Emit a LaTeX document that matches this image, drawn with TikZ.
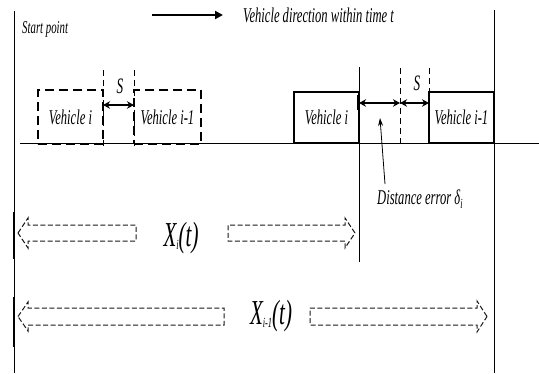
\documentclass[tikz,border=0pt]{standalone}
\usepackage{fontspec}
\newfontfamily\cf[FakeStretch=0.6]{Liberation Serif}
\usetikzlibrary{arrows.meta}
\begin{document}
\begin{tikzpicture}[x=1pt,y=-1pt,
  lbl/.style={font=\cf\itshape\fontsize{21}{21}\selectfont, inner sep=0pt},
  vehd/.style={draw, line width=2pt, dash pattern=on 9pt off 5pt, minimum width=65pt, minimum height=54pt, inner sep=0pt, lbl},
  vehs/.style={draw, line width=2pt, minimum width=65pt, minimum height=51.5pt, inner sep=0pt, lbl},
  guide/.style={line width=0.7pt, dash pattern=on 6pt off 4pt},
  wall/.style={line width=0.9pt},
  gap/.style={line width=2.6pt, {Stealth[length=7pt,width=7.5pt]}-{Stealth[length=7pt,width=7.5pt]}},
  hollow/.style={line width=1pt, draw=black!90, dash pattern=on 5pt off 2.5pt, line join=miter},
  bigx/.style={font=\cf\itshape\fontsize{35}{35}\selectfont, inner sep=0pt}
]
\fill[white] (0,0) rectangle (539,373);
\useasboundingbox (0,0) rectangle (539,373);

% frame lines
\coordinate (Ltop) at (14,11);  \coordinate (Lbot) at (14,373);
\coordinate (Rtop) at (494,10); \coordinate (Rbot) at (494,373);
\coordinate (Mtop) at (359,67); \coordinate (Mbot) at (359,262);
\coordinate (roadL) at (20,143.5); \coordinate (roadR) at (539,143.5);
\draw[wall] (Ltop) -- (Lbot);
\draw[wall] (Rtop) -- (Rbot);
\draw[wall] (Mtop) -- (Mbot);
\draw[wall] (roadL) -- (roadR);
\coordinate (Lb1) at (14,212); \coordinate (Lb2) at (14,259);
\coordinate (Lb3) at (14,297); \coordinate (Lb4) at (14,347);
\draw[line width=2pt] (Lb1) -- (Lb2);
\draw[line width=2pt] (Lb3) -- (Lb4);

% direction legend
\coordinate (dirA) at (152,15); \coordinate (dirB) at (223,15);
\draw[line width=2pt, -{Triangle[length=8pt,width=8pt]}] (dirA) -- (dirB);
\node[lbl, anchor=west] (dirtxt) at (243,15) {Vehicle direction within time t};
\node[lbl, anchor=west, font=\cf\itshape\fontsize{18}{18}\selectfont] (start) at (22,29) {Start point};

% left dashed vehicles
\node[vehd] (vl1) at (70.5,117) {Vehicle i};
\node[vehd, minimum width=67pt] (vl2) at (167.5,117) {Vehicle i-1};
\coordinate (g1t) at (103,70); \coordinate (g1b) at (103,147);
\coordinate (g2t) at (134,70); \coordinate (g2b) at (134,148);
\draw[guide] (g1t) -- (g1b);
\draw[guide] (g2t) -- (g2b);
\coordinate (sA) at (103,105); \coordinate (sB) at (134,105);
\draw[gap] (sA) -- (sB);
\node[lbl, font=\cf\itshape\fontsize{22}{22}\selectfont] (s1) at (120,86) {S};

% right solid vehicles
\node[vehs] (vr1) at (326.5,117.25) {Vehicle i};
\node[vehs] (vr2) at (461.5,117.25) {Vehicle i-1};
\coordinate (g3t) at (400,68); \coordinate (g3b) at (400,143);
\coordinate (g4t) at (429,68); \coordinate (g4b) at (429,92);
\draw[guide] (g3t) -- (g3b);
\draw[guide] (g4t) -- (g4b);
\coordinate (mk1) at (358,95); \coordinate (mk2) at (358,110);
\draw[line width=2.5pt] (mk1) -- (mk2);
\coordinate (eA) at (359,103); \coordinate (eB) at (400,103); \coordinate (eC) at (429,103);
\draw[gap] (eA) -- (eB);
\draw[gap] (eB) -- (eC);
\node[lbl, font=\cf\itshape\fontsize{22}{22}\selectfont] (s2) at (417,83) {S};

% distance error
\node[lbl, anchor=west] (derr) at (377,199) {Distance error δ\raisebox{-0.45ex}{\fontsize{14}{14}\selectfont i}};
\coordinate (derrA) at (385,184); \coordinate (derrB) at (380,118);
\draw[line width=0.8pt, -{Stealth[length=8pt,width=5pt]}] (derrA) -- (derrB);

% hollow dashed arrows, row 1
\draw[hollow] (18,233) -- (28,218) -- (28,225) -- (136,225) -- (136,241) -- (28,241) -- (28,248) -- cycle;
\draw[hollow] (355,233) -- (345,218) -- (345,225) -- (228,225) -- (228,241) -- (345,241) -- (345,248) -- cycle;
\node[bigx] (xi) at (181,238) {X\raisebox{-0.2ex}{\fontsize{14}{14}\selectfont i}(t)};

% row 2
\draw[hollow] (18,316.5) -- (28,302) -- (28,308) -- (224,308) -- (224,325) -- (28,325) -- (28,331) -- cycle;
\draw[hollow] (487,316.5) -- (477,301) -- (477,308) -- (310,308) -- (310,325) -- (477,325) -- (477,332) -- cycle;
\node[bigx] (xim) at (271,316) {X\raisebox{-0.2ex}{\fontsize{14}{14}\selectfont i-1}(t)};
\end{tikzpicture}
\end{document}
